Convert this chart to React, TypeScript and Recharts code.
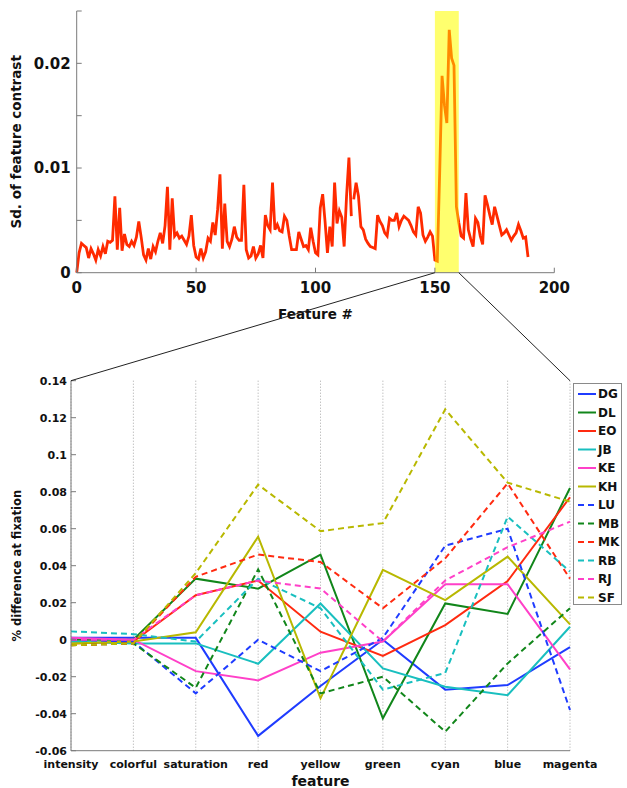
import React from 'react';
import {
  CartesianGrid,
  Legend,
  Line,
  LineChart,
  ReferenceArea,
  XAxis,
  YAxis,
} from 'recharts';

// ---- top panel: sd. of feature contrast per feature ----
const featureIdx = [
  0, 1, 2, 3, 4, 5, 6, 7, 8, 9, 10, 11, 12, 13, 14, 15, 16, 17, 18, 19,
  20, 21, 22, 23, 24, 25, 26, 27, 28, 29, 30, 31, 32, 33, 34, 35, 36, 37, 38, 39,
  40, 41, 42, 43, 44, 45, 46, 47, 48, 49, 50, 51, 52, 53, 54, 55, 56, 57, 58, 59,
  60, 61, 62, 63, 64, 65, 66, 67, 68, 69, 70, 71, 72, 73, 74, 75, 76, 77, 78, 79,
  80, 81, 82, 83, 84, 85, 86, 87, 88, 89, 90, 91, 92, 93, 94, 95, 96, 97, 98, 99,
  100, 101, 102, 103, 104, 105, 106, 107, 108, 109, 110, 111, 112, 113, 114, 115, 115.5, 116, 117, 118, 119,
  120, 121, 122, 123, 124, 125, 126, 127, 128, 129, 130, 131, 132, 133, 134, 135, 136, 137, 138, 139,
  140, 141, 142, 143, 144, 145, 146, 147, 148, 149, 150, 151, 152, 153, 154, 155, 156, 157, 158, 159,
  160, 161, 162, 163, 164, 165, 166, 167, 168, 169, 170, 171, 172, 173, 174, 175, 176, 177, 178, 179,
  180, 181, 182, 183, 184, 185, 186, 187, 188, 189,
];

const sdContrast = [
  0, 0.0019, 0.0028, 0.0026, 0.0024, 0.0014, 0.0023, 0.0018, 0.0012, 0.0022,
  0.0016, 0.0025, 0.0018, 0.003, 0.0029, 0.0031, 0.0073, 0.0022, 0.0062, 0.0021,
  0.0037, 0.0027, 0.0025, 0.003, 0.0026, 0.0034, 0.0049, 0.0034, 0.0017, 0.0012,
  0.0023, 0.0013, 0.0025, 0.002, 0.003, 0.0038, 0.0028, 0.0045, 0.0082, 0.0022,
  0.0071, 0.0035, 0.0038, 0.0033, 0.0035, 0.0031, 0.0027, 0.0035, 0.0055, 0.0026,
  0.0015, 0.0013, 0.0023, 0.0014, 0.002, 0.0033, 0.003, 0.0048, 0.0036, 0.006,
  0.0094, 0.0023, 0.0066, 0.003, 0.0025, 0.0032, 0.0044, 0.0034, 0.0031, 0.0031,
  0.0084, 0.0022, 0.0014, 0.0016, 0.0025, 0.0014, 0.0018, 0.0026, 0.0014, 0.0055,
  0.0045, 0.0041, 0.0086, 0.0041, 0.0046, 0.004, 0.0039, 0.0054, 0.005, 0.0035,
  0.0022, 0.0022, 0.0022, 0.0039, 0.0032, 0.0025, 0.0026, 0.0022, 0.0043, 0.003,
  0.0019, 0.0017, 0.0062, 0.0075, 0.0049, 0.0019, 0.0044, 0.0025, 0.0086, 0.0047,
  0.0059, 0.0053, 0.0025, 0.0073, 0.011, 0.0054, null, 0.007, 0.0086, 0.0073, 0.0044,
  0.0041, 0.0032, 0.0028, 0.0025, 0.0024, 0.0023, 0.0055, 0.0049, 0.0045, 0.0038,
  0.0035, 0.0052, 0.005, 0.005, 0.0057, 0.0044, 0.005, 0.0054, 0.0052, 0.005,
  0.0045, 0.0039, 0.0036, 0.0063, 0.0057, 0.0036, 0.003, 0.0034, 0.0039, 0.0035,
  0.0012, 0.0011, 0.0095, 0.0188, 0.016, 0.0143, 0.0232, 0.0205, 0.0198, 0.0063,
  0.0048, 0.0035, 0.0033, 0.0076, 0.0041, 0.0032, 0.0025, 0.0052, 0.0048, 0.0035,
  0.0027, 0.0074, 0.0065, 0.0055, 0.0046, 0.0063, 0.0054, 0.0045, 0.0036, 0.0038,
  0.0041, 0.0036, 0.0031, 0.0035, 0.0038, 0.0046, 0.004, 0.0033, 0.0034, 0.0015,
];

const highlightBand = [150, 160];
const topXTicks = [0, 50, 100, 150, 200];
const topYTicks = [0, 0.005, 0.01, 0.015, 0.02, 0.025];
const topYLabelled = [0, 0.01, 0.02];

// ---- bottom panel: % difference at fixation per subject ----
const features = [
  'intensity', 'colorful', 'saturation', 'red', 'yellow', 'green', 'cyan', 'blue', 'magenta',
];

const dg = [0.001, 0.001, 0.001, -0.052, -0.025, 0.0, -0.027, -0.0245, -0.004];
const dl = [0.0, 0.0, 0.033, 0.0276, 0.046, -0.0425, 0.0196, 0.0139, 0.082];
const eo = [-0.002, -0.001, 0.024, 0.032, 0.0043, -0.0088, 0.0079, 0.0317, 0.077];
const jb = [-0.001, -0.002, -0.002, -0.013, 0.0196, -0.0155, -0.0254, -0.03, 0.007];
const ke = [0.001, 0.0, -0.017, -0.022, -0.007, -0.001, 0.03, 0.03, -0.016];
const kh = [-0.002, -0.001, 0.004, 0.0557, -0.0317, 0.0377, 0.0214, 0.0449, 0.0083];
const lu = [0.0, -0.001, -0.029, 0.0, -0.017, 0.001, 0.0508, 0.06, -0.038];
const mb = [-0.003, -0.002, -0.026, 0.038, -0.029, -0.02, -0.0497, -0.0128, 0.017];
const mk = [-0.003, -0.002, 0.034, 0.046, 0.042, 0.017, 0.044, 0.0845, 0.033];
const rb = [0.0045, 0.003, -0.001, 0.033, 0.017, -0.027, -0.018, 0.0665, 0.0368];
const rj = [0.0, 0.0, 0.024, 0.032, 0.0277, -0.001, 0.032, 0.05, 0.0638];
const sf = [-0.003, -0.002, 0.036, 0.0838, 0.0587, 0.063, 0.1245, 0.0849, 0.0746];

const bottomYTicks = [-0.06, -0.04, -0.02, 0, 0.02, 0.04, 0.06, 0.08, 0.1, 0.12, 0.14];

const subjects = [
  { key: 'DG', values: dg, color: '#1f3cff', dashed: false },
  { key: 'DL', values: dl, color: '#11861a', dashed: false },
  { key: 'EO', values: eo, color: '#ff2a10', dashed: false },
  { key: 'JB', values: jb, color: '#19bfbf', dashed: false },
  { key: 'KE', values: ke, color: '#ff40c8', dashed: false },
  { key: 'KH', values: kh, color: '#b8b800', dashed: false },
  { key: 'LU', values: lu, color: '#1f3cff', dashed: true },
  { key: 'MB', values: mb, color: '#11861a', dashed: true },
  { key: 'MK', values: mk, color: '#ff2a10', dashed: true },
  { key: 'RB', values: rb, color: '#19bfbf', dashed: true },
  { key: 'RJ', values: rj, color: '#ff40c8', dashed: true },
  { key: 'SF', values: sf, color: '#b8b800', dashed: true },
];

// layout
const W = 627;
const FONT = '"DejaVu Sans", Verdana, sans-serif';
const AXIS_GRAY = '#7a7a7a';

const TOP = { h: 330, left: 76.7, right: 554.3, top: 11, bottom: 272.7 };
const BOT = { y0: 360, h: 428, left: 71, right: 570, top: 20.7, bottom: 390.7 };

const tickStyle = { fontSize: 15, fontWeight: 700, fill: '#111', fontFamily: FONT };
const smallTick = { fontSize: 11, fontWeight: 700, fill: '#111', fontFamily: FONT };

function SubjectLegend({ payload }: any) {
  const items = (payload || []).map((p: any) => subjects.find((s) => s.key === p.value)).filter(Boolean);
  return (
    <div
      style={{
        width: 49,
        height: 222,
        boxSizing: 'border-box',
        border: '1px solid #8a8a8a',
        background: '#fff',
      }}
    >
      <svg width={47} height={220}>
        {items.map((s: any, i: number) => {
          const cy = 10 + i * 18.5;
          return (
            <g key={s.key}>
              <line
                x1={4}
                x2={22}
                y1={cy}
                y2={cy}
                stroke={s.color}
                strokeWidth={2}
                strokeDasharray={s.dashed ? '6 4' : undefined}
              />
              <text
                x={24}
                y={cy}
                dy="0.36em"
                fontSize={12}
                fontWeight={700}
                fontFamily={FONT}
                fill="#111"
              >
                {s.key}
              </text>
            </g>
          );
        })}
      </svg>
    </div>
  );
}

export default function App() {
  const topData = featureIdx.map((f, i) => ({ f, sd: sdContrast[i] }));
  const lastF = featureIdx[featureIdx.length - 1];
  const gA = highlightBand[0] / lastF;
  const gB = highlightBand[1] / lastF;

  const bottomData = features.map((feature, i) => {
    const row: Record<string, number | string> = { feature };
    subjects.forEach((s) => {
      row[s.key] = s.values[i];
    });
    return row;
  });

  // zoom connector lines from the highlighted band to the lower panel
  const xOf = (f: number) => TOP.left + (f / topXTicks[topXTicks.length - 1]) * (TOP.right - TOP.left);
  const connectors = [
    { x1: xOf(highlightBand[0]), y1: TOP.bottom, x2: BOT.left, y2: BOT.y0 + BOT.top },
    { x1: xOf(highlightBand[1]), y1: TOP.bottom, x2: BOT.right, y2: BOT.y0 + BOT.top },
  ];

  return (
    <div style={{ position: 'absolute', left: 0, top: 0, width: W, height: 788, background: '#fff', fontFamily: FONT }}>
      <div style={{ position: 'absolute', left: 0, top: 0 }}>
        <LineChart
          width={W}
          height={TOP.h}
          data={topData}
          margin={{ top: TOP.top, right: W - TOP.right, bottom: 0, left: 0 }}
        >
          <defs>
            <linearGradient id="sdStroke" x1="0" y1="0" x2="1" y2="0">
              <stop offset={0} stopColor="#ff2a00" />
              <stop offset={gA} stopColor="#ff2a00" />
              <stop offset={gA} stopColor="#ff8a00" />
              <stop offset={gB} stopColor="#ff8a00" />
              <stop offset={gB} stopColor="#ff2a00" />
              <stop offset={1} stopColor="#ff2a00" />
            </linearGradient>
          </defs>
          <XAxis
            dataKey="f"
            type="number"
            domain={[0, 200]}
            ticks={topXTicks}
            tick={tickStyle}
            tickSize={-5}
            tickMargin={15}
            stroke={AXIS_GRAY}
            height={TOP.h - TOP.bottom}
            label={{
              value: 'Feature #',
              position: 'insideBottom',
              offset: 11,
              style: { fontSize: 13.5, fontWeight: 700, fill: '#111', fontFamily: FONT },
            }}
          />
          <XAxis
            xAxisId="top"
            orientation="top"
            dataKey="f"
            type="number"
            domain={[0, 200]}
            ticks={topXTicks}
            tickFormatter={() => ''}
            tickSize={-5}
            stroke={AXIS_GRAY}
            height={0}
          />
          <YAxis
            type="number"
            domain={[0, 0.025]}
            ticks={topYTicks}
            tick={tickStyle}
            tickFormatter={(v: number) => (topYLabelled.some((t) => Math.abs(t - v) < 1e-9) ? String(v) : '')}
            tickSize={-5}
            tickMargin={11}
            stroke={AXIS_GRAY}
            width={TOP.left}
            label={{
              value: 'Sd. of feature contrast',
              angle: -90,
              position: 'insideLeft',
              offset: 16,
              style: { textAnchor: 'middle', fontSize: 13.5, fontWeight: 700, fill: '#111', fontFamily: FONT },
            }}
          />
          <YAxis
            yAxisId="right"
            orientation="right"
            type="number"
            domain={[0, 0.025]}
            ticks={topYTicks}
            tickFormatter={() => ''}
            tickSize={-5}
            stroke={AXIS_GRAY}
            width={0}
          />
          <ReferenceArea
            x1={highlightBand[0]}
            x2={highlightBand[1]}
            y1={0}
            y2={0.025}
            fill="#ffff6e"
            fillOpacity={1}
            stroke="none"
          />
          <Line
            dataKey="sd"
            type="linear"
            stroke="url(#sdStroke)"
            strokeWidth={2.8}
            dot={false}
            connectNulls={false}
            isAnimationActive={false}
          />
        </LineChart>
      </div>

      <div style={{ position: 'absolute', left: 0, top: BOT.y0 }}>
        <LineChart
          width={W}
          height={BOT.h}
          data={bottomData}
          margin={{ top: BOT.top, right: W - BOT.right, bottom: 0, left: 0 }}
        >
          <CartesianGrid horizontal={false} strokeDasharray="1 2" stroke="#a8a8a8" />
          <XAxis
            dataKey="feature"
            type="category"
            interval={0}
            tick={smallTick}
            tickSize={0}
            tickMargin={9}
            stroke={AXIS_GRAY}
            height={BOT.h - BOT.bottom}
            label={{
              value: 'feature',
              position: 'insideBottom',
              offset: 2,
              style: { fontSize: 14, fontWeight: 700, fill: '#111', fontFamily: FONT },
            }}
          />
          <XAxis
            xAxisId="top"
            orientation="top"
            dataKey="feature"
            type="category"
            tickFormatter={() => ''}
            tickSize={0}
            stroke={AXIS_GRAY}
            height={0}
          />
          <YAxis
            type="number"
            domain={[-0.06, 0.14]}
            ticks={bottomYTicks}
            tick={smallTick}
            tickFormatter={(v: number) => String(Number(v.toFixed(2)))}
            tickSize={-5}
            tickMargin={9}
            stroke={AXIS_GRAY}
            width={BOT.left}
            label={{
              value: '% difference at fixation',
              angle: -90,
              position: 'insideLeft',
              offset: 17,
              style: { textAnchor: 'middle', fontSize: 11.5, fontWeight: 700, fill: '#111', fontFamily: FONT },
            }}
          />
          <YAxis
            yAxisId="right"
            orientation="right"
            type="number"
            domain={[-0.06, 0.14]}
            ticks={bottomYTicks}
            tickFormatter={() => ''}
            tickSize={-5}
            stroke={AXIS_GRAY}
            width={0}
          />
          {subjects.map((s) => (
            <Line
              key={s.key}
              dataKey={s.key}
              name={s.key}
              type="linear"
              stroke={s.color}
              strokeWidth={2}
              strokeDasharray={s.dashed ? '6 4' : undefined}
              dot={false}
              isAnimationActive={false}
            />
          ))}
          <Legend
            layout="vertical"
            align="center"
            verticalAlign="middle"
            content={<SubjectLegend />}
            wrapperStyle={{ left: 573, top: 23, width: 49, height: 222 }}
          />
        </LineChart>
      </div>

      <svg
        width={W}
        height={788}
        style={{ position: 'absolute', left: 0, top: 0, pointerEvents: 'none' }}
      >
        {connectors.map((c, i) => (
          <line key={i} x1={c.x1} y1={c.y1} x2={c.x2} y2={c.y2} stroke="#222" strokeWidth={1} />
        ))}
      </svg>
    </div>
  );
}
